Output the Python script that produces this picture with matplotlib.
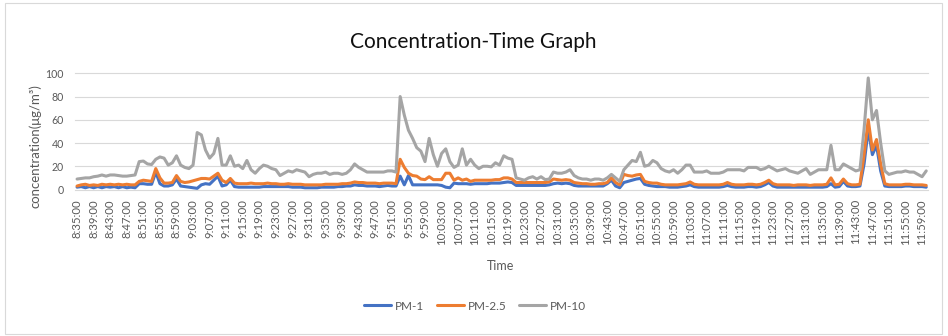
import matplotlib
matplotlib.use("Agg")
import matplotlib.pyplot as plt
import numpy as np
import pandas as pd
from matplotlib.patches import Rectangle

plt.rcParams['font.family'] = ['Lato', 'DejaVu Sans']

# ---- data ----
times = pd.date_range("2000-01-01 08:35", "2000-01-01 12:00", freq="1min")
time_labels = [f"{t.hour}:{t.minute:02d}:00" for t in times]

pm1 = [
    2, 2.5, 1.5, 2.5, 1.5, 2.5, 1.5, 2.5, 2, 2.5,
    1.5, 2.5, 1.5, 2, 1.5, 5, 5, 4.5, 4.5, 15,
    5, 3, 3, 4, 9, 3, 2.5, 2, 1.5, 1,
    4, 5, 4.5, 8, 11.5, 3, 4, 8, 2.5, 2,
    2, 2, 2, 2, 2, 2.5, 2.5, 2.5, 2.5, 2.5,
    2.5, 2.5, 2, 2, 2, 1.5, 1.5, 1.5, 1.5, 2,
    2, 2, 2, 2.5, 2.5, 3, 3, 4, 3.5, 3.5,
    3, 3, 3, 2.5, 3, 3.5, 3, 3, 11.5, 4,
    12, 4, 4, 4, 4, 4, 4, 4, 3.5, 2,
    1.5, 5.5, 5, 5, 5, 4.5, 5, 5, 5, 5,
    5.5, 5.5, 5.5, 6, 6.5, 6, 3.5, 3.5, 3.5, 3.5,
    3.5, 3.5, 3.5, 3.5, 4, 5, 5.5, 5, 5.5, 5,
    3.5, 3, 3, 3, 3, 3, 3, 3, 5, 8,
    3, 1.5, 6, 7, 8, 9, 9.5, 4.5, 3.5, 3,
    2.5, 2.5, 2.5, 2, 2, 2, 2.5, 3, 4, 2.5,
    2, 2, 2, 2, 2, 2, 2.5, 3.5, 2.5, 2,
    2, 2, 2.5, 2.5, 2, 2.5, 4, 6, 3, 2,
    2, 2, 2, 2, 2, 2, 2, 2, 2, 2,
    2, 2.5, 5, 2, 2.5, 7, 3, 2.5, 2.5, 3,
    22, 52, 30, 38, 16, 3, 2.5, 2.5, 2.5, 2.5,
    3, 3, 2.5, 2.5, 2.5, 2,
]

pm25 = [
    3, 4, 4.5, 3.5, 4, 3.5, 4.5, 4, 4.5, 4,
    4.5, 4, 4.5, 4, 4, 7, 8, 7.5, 7, 18,
    10, 5.5, 5.5, 6, 12, 7, 6, 6.5, 7.5, 8.5,
    9.5, 9.5, 9, 11.5, 14, 8, 6, 9.5, 5.5, 5,
    5, 5, 5.5, 5, 5, 5, 5.5, 5, 5, 4.5,
    4.5, 5, 4.5, 4.5, 4.5, 4, 4, 4, 4, 4,
    4.5, 4.5, 4.5, 4.5, 5, 5, 5.5, 6.5, 6, 6,
    5.5, 5.5, 5.5, 5, 5.5, 5.5, 5.5, 5, 26, 19,
    14, 12, 11.5, 9, 8.5, 11, 8.5, 8.5, 8.5, 14,
    14, 8, 10, 8, 9, 7, 8, 8, 8, 8,
    8, 8.5, 8.5, 10, 10, 9, 6, 6, 6, 6,
    6, 6, 6, 6, 6.5, 9, 8.5, 8, 8.5, 8,
    6, 5.5, 5, 5, 4.5, 4.5, 5, 5, 6, 10,
    6, 4, 13, 12, 11.5, 12.5, 13, 7, 6, 5.5,
    5.5, 4.5, 4, 4, 4, 4, 4.5, 5, 6.5, 4.5,
    4, 4, 4, 4, 4, 4, 4.5, 6, 4.5, 4,
    4, 4, 4.5, 4.5, 4, 4.5, 6, 8, 5, 4,
    4, 4, 4, 3.5, 4, 4, 4, 3.5, 4, 4,
    4, 4.5, 10, 4, 4.5, 9, 5, 4, 4, 4.5,
    30, 60, 34, 43, 22, 5, 4, 4, 4, 4,
    4.5, 4.5, 4, 4, 4, 3.5,
]

pm10 = [
    9, 9.5, 10, 10, 11, 11.5, 12.5, 11.5, 12.5, 12.5,
    12, 11.5, 11.5, 12, 12.5, 24, 24.5, 22, 21.5, 26,
    28, 27, 21, 23, 29, 21, 19, 18, 21, 49,
    47, 34, 27, 31, 44, 21, 21, 29, 20, 21,
    18, 25, 17, 14, 18, 21, 20, 18, 17, 12,
    14, 16, 15, 17, 16, 15, 11, 13, 14, 14,
    15, 13, 14, 14, 13, 14, 17, 22, 19, 17,
    15, 15, 15, 15, 15, 16, 16, 15, 80, 64,
    51, 44, 36, 33, 24, 44, 30, 20, 31, 35,
    24, 19, 21, 35, 21, 26, 21, 18, 20, 20,
    19.5, 23, 21, 29, 27, 26, 10, 9, 8, 10,
    11, 9, 11, 8.5, 9, 15, 14, 14, 15, 17,
    12, 10, 9, 9, 8, 9, 9, 8, 10, 13,
    10, 7, 17, 21, 25, 24, 32, 20, 21, 25,
    23, 18, 16, 15, 17, 14, 17, 21, 21, 15,
    15, 15, 16, 14, 14, 14, 15, 17, 17, 17,
    17, 16, 19, 19, 19, 17, 18, 20, 18, 16,
    17, 18, 16, 15, 14, 16, 18, 13, 15, 17,
    17, 17, 38, 17, 17, 22, 20, 18, 16, 17,
    52, 96, 60, 68, 40, 16, 13, 14, 15, 15,
    16, 15, 15, 13, 11, 16,
]

series_names = ["PM-1", "PM-2.5", "PM-10"]
y_ticks = [0, 20, 40, 60, 80, 100]

# ---- figure ----
W, H = 948, 336
fig = plt.figure(figsize=(W / 100, H / 100), dpi=100)
fig.patches.append(Rectangle((5 / W, 2 / H), (942 - 5) / W, (333 - 2) / H,
                             transform=fig.transFigure, fill=False,
                             edgecolor="#d9d9d9", linewidth=0.8))

ax = fig.add_axes([75 / W, 1 - 189.5 / H, (928.3 - 75) / W, (189.5 - 73.3) / H])
n = len(time_labels)
x = np.arange(n)
colors = ["#4472C4", "#ED7D31", "#A5A5A5"]
for vals, name, c in zip([pm1, pm25, pm10], series_names, colors):
    ax.plot(x, vals, color=c, linewidth=2.2, label=name,
            solid_joinstyle="round", solid_capstyle="round", zorder=3)

ax.set_xlim(-0.5, n - 0.5)
ax.set_ylim(0, 100)
for t in y_ticks:
    ax.axhline(t, color="#d9d9d9", linewidth=0.8, zorder=1, clip_on=False)
for s in ax.spines.values():
    s.set_visible(False)

ax.set_yticks(y_ticks)
ax.set_yticklabels([str(t) for t in y_ticks], fontsize=7.6, color="#595959")
tick_idx = x[::4]
ax.set_xticks(tick_idx)
ax.set_xticklabels([time_labels[i] for i in tick_idx], rotation=90,
                   fontsize=8.2, color="#595959", va="top", ha="center")
ax.tick_params(axis="x", length=0, pad=7)
ax.tick_params(axis="y", length=0, pad=8)

fig.text(473 / W, 1 - 48 / H, "Concentration-Time Graph", fontsize=15,
         color="#111111", ha="center", va="baseline")
fig.text(35 / W, 1 - 146 / H, "concentration(μg/m³)", fontsize=9.5,
         color="#595959", rotation=90, ha="center", va="center")
fig.text(501 / W, 1 - 266 / H, "Time", fontsize=9, color="#595959",
         ha="center", va="center")

handles, labels = ax.get_legend_handles_labels()
leg = fig.legend(handles, labels, loc="center", bbox_to_anchor=(475 / W, 1 - 306 / H),
                 ncol=3, frameon=False, fontsize=8.5, handlelength=2.3,
                 handletextpad=0.3, columnspacing=1.1, labelcolor="#595959")

fig.savefig("out.png", dpi=100)
